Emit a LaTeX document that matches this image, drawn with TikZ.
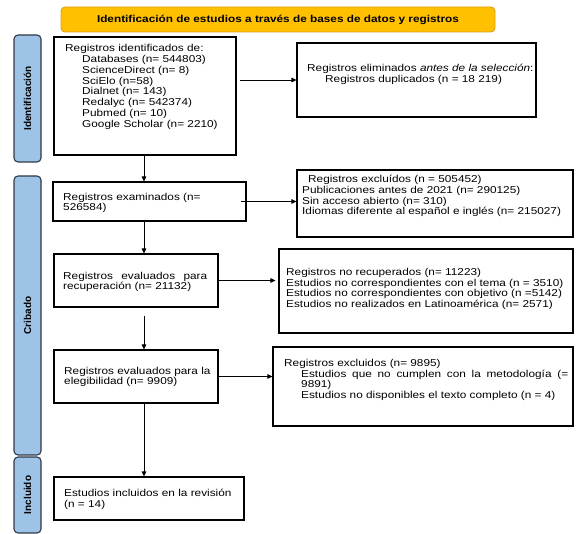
\documentclass[tikz,border=0pt]{standalone}
\usepackage{fontspec}
\setmainfont{Liberation Sans}[FakeStretch=1.18]
\newfontfamily\sidefont{Liberation Sans}
\usetikzlibrary{arrows.meta}
\definecolor{bannerfill}{HTML}{FFC000}
\definecolor{bannerdraw}{HTML}{D9A21B}
\definecolor{barfill}{HTML}{9DC3E6}
\definecolor{bardraw}{HTML}{2E3A46}
\begin{document}
\begin{tikzpicture}[x=1pt,y=-1pt,font=\fontsize{10}{10.8}\selectfont,
  flowbox/.style={draw=black,line width=1.1pt,inner sep=0pt},
  txt/.style={inner sep=0pt,align=left,anchor=west},
  arr/.style={-{Triangle[length=5pt,width=4.5pt]},line width=0.9pt},
  sidebar/.style={draw=bardraw,fill=barfill,line width=1.1pt,rounded corners=4pt,rotate=90,
    minimum height=27pt,inner sep=0pt,font=\sidefont\bfseries\fontsize{10}{12}\selectfont},
  bannerbox/.style={draw=bannerdraw,fill=bannerfill,line width=0.9pt,rounded corners=4pt,
    inner sep=0pt,font=\bfseries\fontsize{10}{12}\selectfont}]
\useasboundingbox (0,0) rectangle (582,534);
\coordinate (colx) at (144,0);

% banner
\node[bannerbox,minimum width=434pt,minimum height=25pt] (banner) at (278,19.5)
  {Identificación de estudios a través de bases de datos y registros};

% side bars
\node[sidebar,minimum width=127pt] (idbar) at (27.5,98.5) {Identificación};
\node[sidebar,minimum width=279pt] (cribar) at (27.5,315.5) {Cribado};
\node[sidebar,minimum width=76pt] (incbar) at (27.5,495) {Incluido};

% boxes
\node[flowbox,minimum width=182pt,minimum height=118pt] (box1) at (145,96) {};
\node[flowbox,minimum width=239pt,minimum height=74pt] (box2) at (416.5,80) {};
\node[flowbox,minimum width=193pt,minimum height=39pt] (exam) at (149.5,201.5) {};
\node[flowbox,minimum width=276pt,minimum height=67pt] (excl) at (435,203.5) {};
\node[flowbox,minimum width=164pt,minimum height=53pt] (recup) at (136,280.5) {};
\node[flowbox,minimum width=294pt,minimum height=84pt] (norec) at (426,291) {};
\node[flowbox,minimum width=164pt,minimum height=53pt] (eleg) at (136,376.5) {};
\node[flowbox,minimum width=300pt,minimum height=79pt] (exnine) at (423,386.5) {};
\node[flowbox,minimum width=190pt,minimum height=43pt] (incl) at (149,498.5) {};

% texts
\node[txt] (t1) at (65,87) {Registros identificados de:\\
  \hspace*{17pt}Databases (n= 544803)\\
  \hspace*{17pt}ScienceDirect (n= 8)\\
  \hspace*{17pt}SciElo (n=58)\\
  \hspace*{17pt}Dialnet (n= 143)\\
  \hspace*{17pt}Redalyc (n= 542374)\\
  \hspace*{17pt}Pubmed (n= 10)\\
  \hspace*{17pt}Google Scholar (n= 2210)};
\node[txt] (t2) at (307,74) {Registros eliminados \textit{antes de la selección}:\\
  \hspace*{18pt}Registros duplicados (n = 18 219)};
\node[txt] (texam) at (63,203) {Registros examinados (n=\\526584)};
\node[txt] (texcl) at (302,196) {\hspace*{6pt}Registros excluídos (n = 505452)\\
  Publicaciones antes de 2021 (n= 290125)\\
  Sin acceso abierto (n= 310)\\
  Idiomas diferente al español e inglés (n= 215027)};
\node[txt] (trecup) at (63,282) {\makebox[144pt][s]{Registros evaluados para}\\
  recuperación (n= 21132)};
\node[txt] (tnorec) at (286,289) {Registros no recuperados (n= 11223)\\
  Estudios no correspondientes con el tema (n = 3510)\\
  Estudios no correspondientes con objetivo (n =5142)\\
  Estudios no realizados en Latinoamérica (n= 2571)};
\node[txt] (teleg) at (64,377) {Registros evaluados para la\\elegibilidad (n= 9909)};
\node[txt] (texnine) at (284,380) {Registros excluidos (n= 9895)\\
  \hspace*{17pt}\makebox[267pt][s]{Estudios que no cumplen con la metodología (=}\\
  \hspace*{17pt}9891)\\
  \hspace*{17pt}Estudios no disponibles el texto completo (n = 4)};
\node[txt] (tincl) at (64,499) {Estudios incluidos en la revisión\\(n = 14)};

% connectors
\draw[arr] (box1.south -| colx) -- (exam.north -| colx);
\draw[arr] ([xshift=3pt]box1.east |- box2.west) -- (box2.west);
\draw[arr] ([xshift=-6pt]exam.east) -- (excl.west |- exam.east);
\draw[arr] (exam.south -| colx) -- (recup.north -| colx);
\draw[arr] (recup.east) -- ([xshift=-3pt]norec.west |- recup.east);
\draw[arr] ([yshift=-8pt]recup.south -| colx) -- (eleg.north -| colx);
\draw[arr] (eleg.east) -- (exnine.west |- eleg.east);
\draw[arr] (eleg.south -| colx) -- (incl.north -| colx);
\end{tikzpicture}
\end{document}
